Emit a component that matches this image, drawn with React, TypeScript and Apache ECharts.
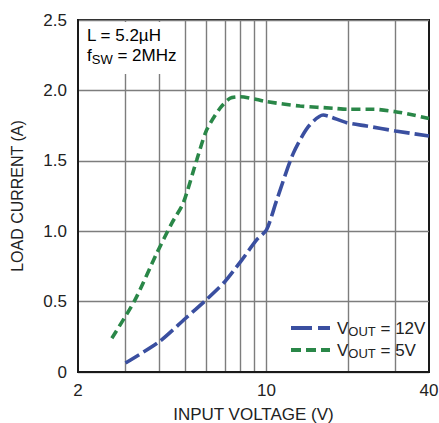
import React, { useEffect, useRef } from "react";
import * as echarts from "echarts";

// Vout = 12V
const voltage12 = [3.0, 4.0, 5.0, 6.0, 7.0, 8.09, 9.2, 10.0, 10.9, 12.56, 14.28, 16.2, 17.2, 19.8, 23.5, 30, 40];
const current12 = [0.064, 0.215, 0.38, 0.516, 0.641, 0.795, 0.94, 1.01, 1.22, 1.553, 1.742, 1.825, 1.813, 1.771, 1.747, 1.712, 1.676];
// Vout = 5V
const voltage5 = [2.67, 3.25, 3.91, 4.45, 4.91, 5.51, 6.0, 6.72, 7.32, 7.97, 9.2, 10.0, 13.3, 17.7, 20, 25, 30, 35, 40];
const current5 = [0.24, 0.51, 0.84, 1.056, 1.2, 1.506, 1.72, 1.873, 1.944, 1.955, 1.935, 1.92, 1.889, 1.873, 1.866, 1.866, 1.849, 1.825, 1.8];

const xLabelValues = [2, 10, 40];
const xGridValues = [3, 4, 5, 6, 7, 8, 9, 10, 20, 30];
const seriesNames = ["VOUT = 12V", "VOUT = 5V"];

const FONT = "'Liberation Sans', Arial, sans-serif";
const TEXT = "#222";
const BLUE = "#3a4fa0";
const GREEN = "#2a8748";
const GRID = "#7d7d7d";

const lg = (v: number) => Math.log10(v);

export default function App() {
  const ref = useRef<HTMLDivElement>(null);
  useEffect(() => {
    if (!ref.current) return;
    const chart = echarts.init(ref.current, null, { renderer: "svg" });
    const rich = {
      v: { fontFamily: FONT, fontSize: 17, color: TEXT, lineHeight: 22 },
      s: { fontFamily: FONT, fontSize: 13, color: TEXT, lineHeight: 22, padding: [7, 0, 0, 0] },
    };
    chart.setOption({
      animation: false,
      backgroundColor: "#fff",
      grid: {
        left: 78, right: 10, top: 20, bottom: 51,
        show: true, borderColor: "#1a1a1a", borderWidth: 2,
        containLabel: false, outerBoundsMode: "none",
      },
      xAxis: {
        type: "value",
        min: lg(2),
        max: lg(40),
        name: "INPUT VOLTAGE (V)",
        nameLocation: "middle",
        nameGap: 34,
        nameMoveOverlap: false,
        nameTextStyle: { fontFamily: FONT, fontSize: 17, color: TEXT },
        axisLine: { show: true, lineStyle: { color: "#1a1a1a", width: 2 } },
        axisTick: { show: false, customValues: xGridValues.map(lg) },
        axisLabel: {
          customValues: xLabelValues.map(lg),
          formatter: (v: number) => String(Math.round(Math.pow(10, v))),
          fontFamily: FONT,
          fontSize: 17,
          color: TEXT,
          margin: 10,
        },
        splitLine: { show: true, lineStyle: { color: GRID, width: 1.4 } },
      },
      yAxis: {
        type: "value",
        min: 0,
        max: 2.5,
        interval: 0.5,
        name: "LOAD CURRENT (A)",
        nameLocation: "middle",
        nameGap: 53,
        nameMoveOverlap: false,
        nameTextStyle: { fontFamily: FONT, fontSize: 16, color: TEXT },
        axisLine: { show: true, lineStyle: { color: "#1a1a1a", width: 2 } },
        axisTick: { show: false },
        axisLabel: {
          formatter: (v: number) => (v === 0 ? "0" : v.toFixed(1)),
          fontFamily: FONT,
          fontSize: 17,
          color: TEXT,
          margin: 11,
        },
        splitLine: { show: true, lineStyle: { color: GRID, width: 1.4 } },
      },
      legend: {
        orient: "vertical",
        left: 286,
        top: 313,
        itemWidth: 39,
        itemHeight: 4,
        itemGap: 2,
        data: [
          { name: seriesNames[0], icon: "path://M0,0h21v4h-21zM27,0h12v4h-12z", itemStyle: { color: BLUE } },
          { name: seriesNames[1], icon: "path://M0,0h10v4h-10zM15,0h10v4h-10zM30,0h9v4h-9z", itemStyle: { color: GREEN } },
        ],
        formatter: (name: string) => "{v|V}{s|OUT}{v|" + name.replace("VOUT", "") + "}",
        textStyle: { rich, padding: [0, 0, 0, 2] },
      },
      graphic: [
        { type: "rect", shape: { x: 80, y: 22, width: 98, height: 52 }, style: { fill: "#fff" }, z: 1 },
        { type: "text", x: 87, y: 24.5, z: 2, style: { text: "{v|L = 5.2µH}", rich } },
        { type: "text", x: 87, y: 44.5, z: 2, style: { text: "{v|f}{s|SW}{v| = 2MHz}", rich } },
      ],
      series: [
        {
          name: seriesNames[0],
          type: "line",
          data: voltage12.map((v, i) => [lg(v), current12[i]]),
          symbol: "none",
          smooth: 0.25,
          lineStyle: { color: BLUE, width: 3.6, type: [16, 5] },
          itemStyle: { color: BLUE },
          z: 3,
        },
        {
          name: seriesNames[1],
          type: "line",
          data: voltage5.map((v, i) => [lg(v), current5[i]]),
          symbol: "none",
          smooth: 0.25,
          lineStyle: { color: GREEN, width: 3.6, type: [9, 5] },
          itemStyle: { color: GREEN },
          z: 3,
        },
      ],
    });
    return () => chart.dispose();
  }, []);
  return <div ref={ref} style={{ width: 439, height: 423, position: "absolute", left: 0, top: 0 }} />;
}
